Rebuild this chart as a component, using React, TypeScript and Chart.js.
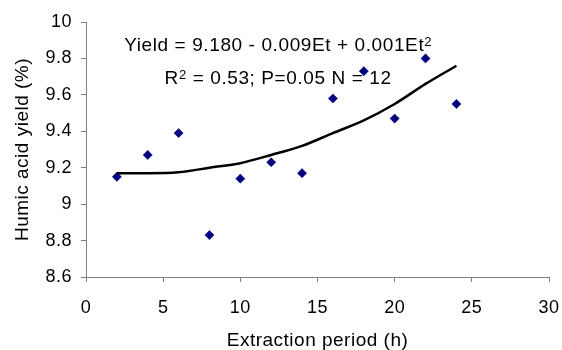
import React, { useEffect, useRef } from 'react';
import { Chart, registerables } from 'chart.js';

Chart.register(...registerables);

// ---- data ----
const periods = [2, 4, 6, 8, 10, 12, 14, 16, 18, 20, 22, 24];
const yields = [9.15, 9.27, 9.39, 8.83, 9.14, 9.23, 9.17, 9.58, 9.73, 9.47, 9.8, 9.55];
const trendPeriods = [2, 4, 6, 8, 10, 12, 14, 16, 18, 20, 22, 24];
const trendYields = [9.17, 9.17, 9.175, 9.2, 9.225, 9.27, 9.32, 9.39, 9.46, 9.55, 9.66, 9.76];
const xTicks = [0, 5, 10, 15, 20, 25, 30];
const yTicks = [8.6, 8.8, 9, 9.2, 9.4, 9.6, 9.8, 10];
const xTitle = 'Extraction period (h)';
const yTitle = 'Humic acid yield (%)';
const eqLine1 = [{ text: 'Yield = 9.180 - 0.009Et + 0.001Et' }, { text: '2', sup: true }];
const eqLine2 = [{ text: 'R' }, { text: '2', sup: true }, { text: ' = 0.53; P=0.05 N = 12' }];

// annotation anchor (data coordinates of text centre / baseline)
const eqX = 12.45;
const eqY1 = 9.84;
const eqY2 = 9.66;

const FAMILY = '"Liberation Sans", Arial, Helvetica, sans-serif';
const AXIS_GREY = '#808080';
const MARKER = '#000080';

type Part = { text: string; sup?: boolean };

function drawRich(ctx: CanvasRenderingContext2D, parts: Part[], cx: number, by: number) {
  ctx.save();
  (ctx as any).letterSpacing = '0.6px';
  ctx.fillStyle = '#000';
  ctx.textBaseline = 'alphabetic';
  ctx.textAlign = 'left';
  const mainFont = `19px ${FAMILY}`;
  const supFont = `13px ${FAMILY}`;
  const widths = parts.map((p) => {
    ctx.font = p.sup ? supFont : mainFont;
    return ctx.measureText(p.text).width;
  });
  const total = widths.reduce((a, b) => a + b, 0);
  let xx = cx - total / 2;
  parts.forEach((p, i) => {
    ctx.font = p.sup ? supFont : mainFont;
    ctx.fillText(p.text, xx, p.sup ? by - 5 : by);
    xx += widths[i];
  });
  ctx.restore();
}

const equationPlugin = {
  id: 'equation',
  beforeDraw(chart: any) {
    (chart.ctx as any).letterSpacing = '0.5px';
  },
  afterDraw(chart: any) {
    const { ctx, scales } = chart;
    const x = scales.x;
    const y = scales.y;
    drawRich(ctx, eqLine1, x.getPixelForValue(eqX), y.getPixelForValue(eqY1));
    drawRich(ctx, eqLine2, x.getPixelForValue(eqX), y.getPixelForValue(eqY2));
  },
};

export default function App() {
  const ref = useRef<HTMLCanvasElement>(null);

  useEffect(() => {
    const canvas = ref.current!;
    const chart = new Chart(canvas, {
      type: 'scatter',
      data: {
        datasets: [
          {
            type: 'line',
            label: 'Trend',
            data: trendPeriods.map((p, i) => ({ x: p, y: trendYields[i] })),
            borderColor: '#000',
            borderWidth: 2.5,
            pointRadius: 0,
            fill: false,
            cubicInterpolationMode: 'monotone',
            order: 0,
          } as any,
          {
            label: 'Humic acid yield',
            data: periods.map((p, i) => ({ x: p, y: yields[i] })),
            pointStyle: 'rectRot',
            pointRadius: 4.6,
            backgroundColor: MARKER,
            borderColor: MARKER,
            borderWidth: 0.5,
            showLine: false,
            order: 1,
          },
        ],
      },
      options: {
        responsive: false,
        animation: false,
        layout: { padding: { top: 22, right: 13, left: 0, bottom: 0 } },
        plugins: {
          legend: { display: false },
          tooltip: { enabled: false },
        },
        scales: {
          x: {
            type: 'linear',
            position: 'bottom',
            min: 0,
            max: 30,
            afterFit: (s: any) => {
              s.height = 73;
              s.paddingLeft = 0;
              s.paddingRight = 0;
            },
            afterBuildTicks: (s: any) => {
              s.ticks = xTicks.map((v) => ({ value: v }));
            },
            grid: {
              display: true,
              drawOnChartArea: false,
              drawTicks: true,
              tickLength: 5,
              color: AXIS_GREY,
              lineWidth: 1,
            },
            border: { display: true, color: AXIS_GREY, width: 1 },
            ticks: {
              font: { family: FAMILY, size: 18 },
              color: '#000',
              padding: 15,
              maxRotation: 0,
              autoSkip: false,
              callback: (v: any) => String(v),
            },
            title: {
              display: true,
              text: xTitle,
              color: '#000',
              font: { family: FAMILY, size: 19, lineHeight: 1 },
              padding: { top: 0, bottom: 0 },
            },
          },
          y: {
            type: 'linear',
            position: 'left',
            min: 8.6,
            max: 10,
            afterFit: (s: any) => {
              s.width = 86;
              s.paddingTop = 0;
              s.paddingBottom = 0;
            },
            afterBuildTicks: (s: any) => {
              s.ticks = yTicks.map((v) => ({ value: v }));
            },
            grid: {
              display: true,
              drawOnChartArea: false,
              drawTicks: true,
              tickLength: 5,
              color: AXIS_GREY,
              lineWidth: 1,
            },
            border: { display: true, color: AXIS_GREY, width: 1 },
            ticks: {
              font: { family: FAMILY, size: 18 },
              color: '#000',
              padding: 9,
              autoSkip: false,
              callback: (v: any) => String(v),
            },
            title: {
              display: true,
              text: yTitle,
              color: '#000',
              font: { family: FAMILY, size: 19, lineHeight: 1 },
              padding: { top: 13, bottom: 0 },
            },
          },
        },
      },
      plugins: [equationPlugin],
    });
    return () => chart.destroy();
  }, []);

  return (
    <div style={{ position: 'fixed', left: 0, top: 0, width: 562, height: 350, background: '#fff' }}>
      <canvas ref={ref} width={562} height={350} style={{ width: 562, height: 350, display: 'block' }} />
    </div>
  );
}
